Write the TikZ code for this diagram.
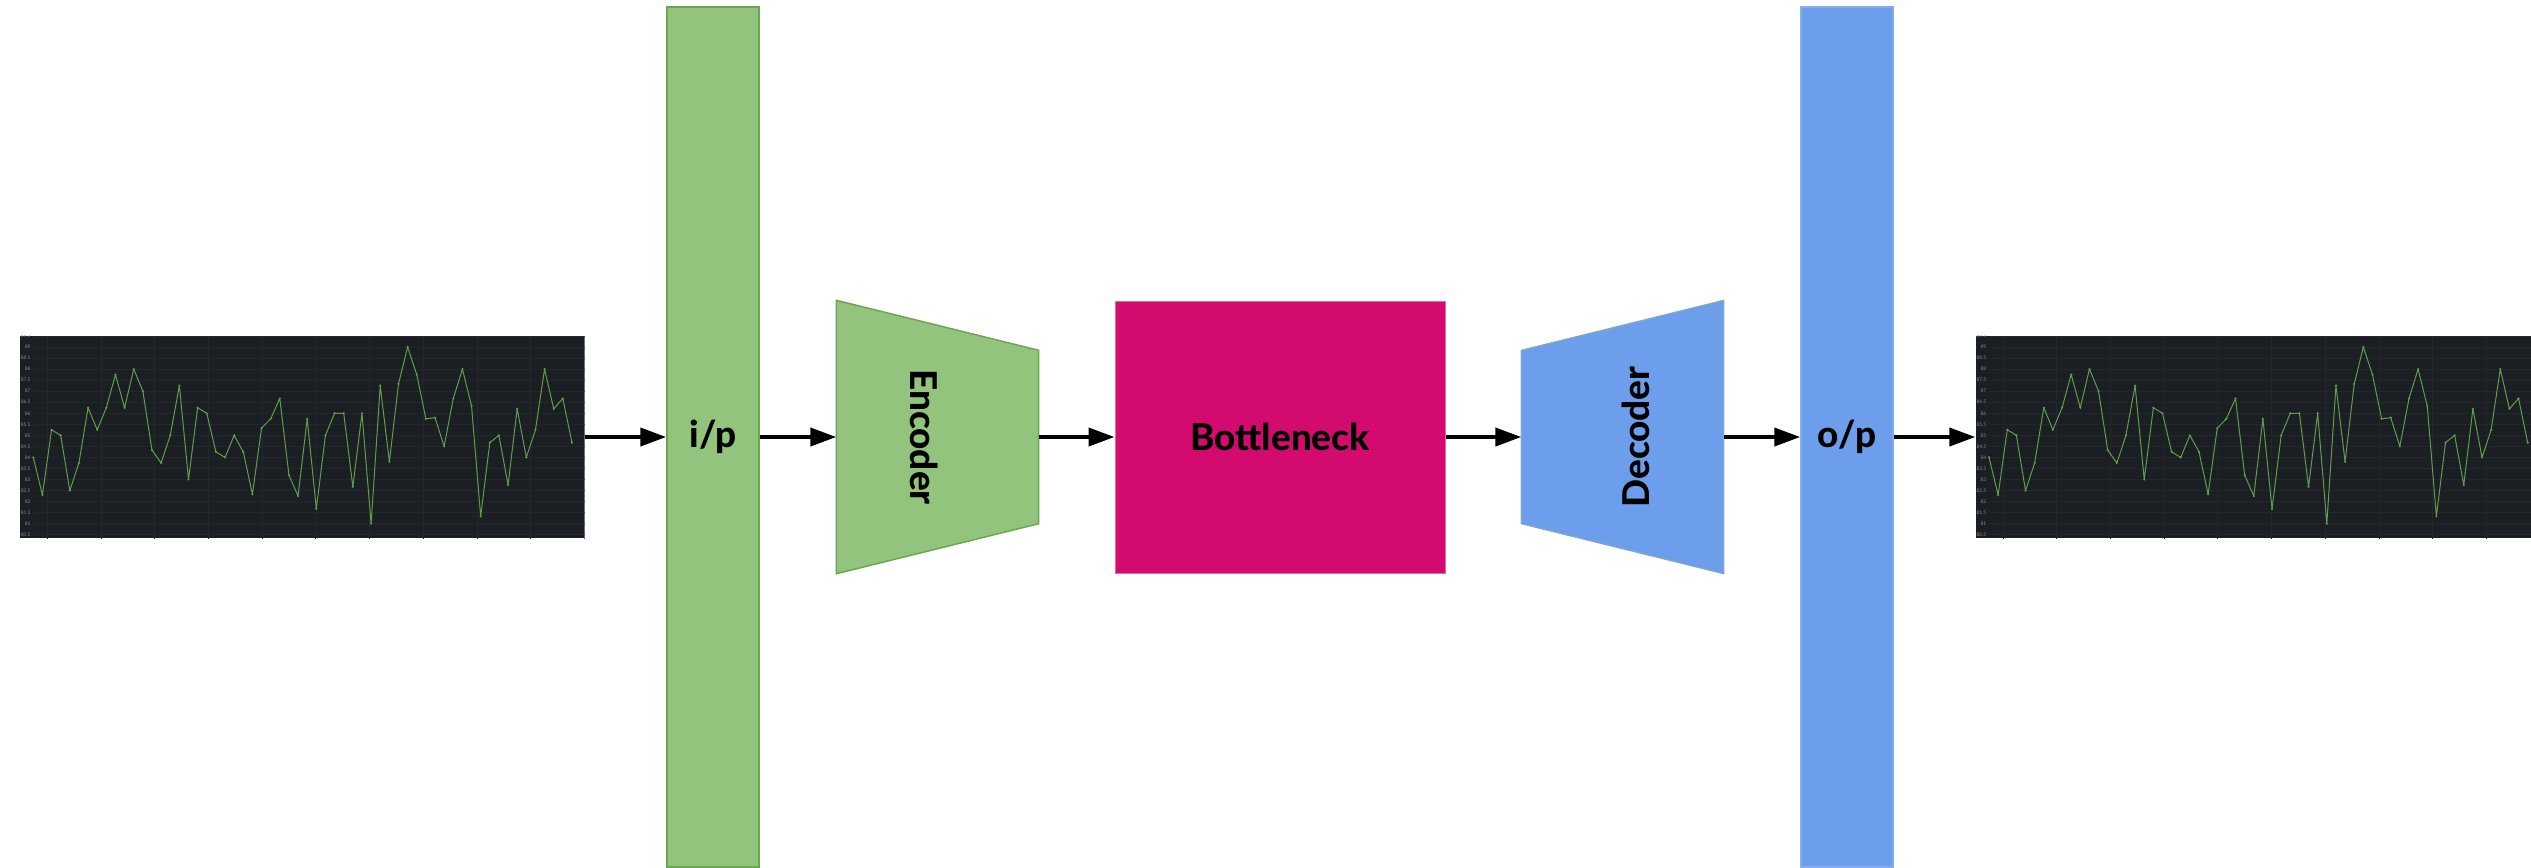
\documentclass[tikz,border=0pt]{standalone}
\usepackage{fontspec}
\setmainfont{Lato}[BoldFont={Lato Heavy}]
\usetikzlibrary{arrows.meta,positioning,calc}

\definecolor{ipgreen}{HTML}{93C47D}
\definecolor{ipgreenline}{HTML}{6AA84F}
\definecolor{opblue}{HTML}{6D9EEB}
\definecolor{opblueline}{HTML}{82A9C6}
\definecolor{neckpink}{HTML}{D30B6F}
\definecolor{neckpinkline}{HTML}{E46AA3}
\definecolor{panelbg}{HTML}{1B1E22}
\definecolor{panelgrid}{HTML}{23262B}
\definecolor{traceline}{HTML}{5E9E4E}
\definecolor{ticklabel}{HTML}{868A8F}

% signal samples shown in both panels
\def\signalvalues{84,82.3,85.25,85,82.5,83.75,86.25,85.25,86.25,87.75,86.25,88,87,84.33,83.75,85,87.25,83,86.25,86,84.25,84,85,84.25,82.33,85.33,85.75,86.67,83.2,82.25,85.75,81.67,85,86,86,82.67,86,81,87.25,83.8,87.33,89,87.75,85.75,85.8,84.5,86.67,88,86.33,81.33,84.67,85,82.75,86.2,84,85.25,88,86.2,86.67,84.67}

\tikzset{
  flow/.style={line width=0.4mm, -{Triangle[length=2.6mm,width=1.8mm]}},
  panel/.style={fill=panelbg, inner sep=0pt, minimum width=56.4mm, minimum height=20.2mm},
  layerbar/.style={inner sep=0pt, minimum width=9.2mm, minimum height=86mm, line width=0.15mm},
  blockbox/.style={inner sep=0pt, minimum height=27.2mm},
  blocktext/.style={font=\fontsize{10.5}{12}\selectfont\bfseries, inner sep=0pt},
  ticklab/.style={font=\fontsize{1.4}{1.6}\selectfont, text=ticklabel, inner sep=0pt, anchor=east},
  trace/.style={traceline, line width=0.1mm, line join=round}
}

% #1 panel node, #2 x of first sample
\newcommand{\signalpanel}[2]{%
  \begin{scope}
    \clip (#1.south west) rectangle (#1.north east);
    \foreach \k in {0,...,10}
      \draw[panelgrid, line width=0.08mm] ({#2+14+53.7*\k},336) -- ({#2+14+53.7*\k},540);
    \foreach \v in {80.5,81,...,89.5} {
      \draw[panelgrid, line width=0.08mm] (#2,{347+(89-\v)*22.08}) -- ++(570,0);
      \node[ticklab] at ({#2-2},{347+(89-\v)*22.08}) {\v};
    }
    \draw[trace] (#2,{347+5*22.08})
      foreach \v [count=\i] in \signalvalues {-- ({#2+(\i-1)*9.13},{347+(89-\v)*22.08})};
    \foreach \v [count=\i] in \signalvalues
      \fill[traceline] ({#2+(\i-1)*9.13},{347+(89-\v)*22.08}) circle (0.12mm);
  \end{scope}}

\begin{document}
\begin{tikzpicture}[x=0.1mm,y=-0.1mm]
\useasboundingbox (0,0) rectangle (2531,867);

% Input signal panel
\node (inplot) [panel] at (302,437) {};
\signalpanel{inplot}{33.3}

% Input layer
\node (ip) [layerbar, fill=ipgreen, draw=ipgreenline] at (713,437) {};
\node (iptext) [blocktext] at (713,437) {i/p};

% Encoder
\node (enc) [blockbox, minimum width=20.1mm] at (937.5,437) {};
\filldraw[fill=ipgreen, draw=ipgreenline, line width=0.15mm]
  (enc.north west) -- ($(enc.north east)+(0,50)$) -- ($(enc.south east)+(0,-50)$) -- (enc.south west) -- cycle;
\node (enctext) [blocktext, rotate=-90] at (924,437) {Encoder};

% Bottleneck
\node (neck) [blockbox, minimum width=33mm, fill=neckpink, draw=neckpinkline, line width=0.1mm] at (1280,437) {};
\node (necktext) [blocktext] at (1280,437) {Bottleneck};

% Decoder
\node (dec) [blockbox, minimum width=20.1mm] at (1622.5,437) {};
\filldraw[fill=opblue, draw=opblueline, line width=0.12mm]
  ($(dec.north west)+(0,50)$) -- (dec.north east) -- (dec.south east) -- ($(dec.south west)+(0,-50)$) -- cycle;
\node (dectext) [blocktext, rotate=90] at (1636,437) {Decoder};

% Output layer
\node (op) [layerbar, fill=opblue, draw=opblue!85!white] at (1847,437) {};
\node (optext) [blocktext] at (1847,437) {o/p};

% Output signal panel
\node (outplot) [panel] at (2258,437) {};
\signalpanel{outplot}{1989}

% Connectors
\draw[flow] (inplot.east) -- (ip.west);
\draw[flow] (ip.east) -- (enc.west);
\draw[flow] (enc.east) -- (neck.west);
\draw[flow] (neck.east) -- (dec.west);
\draw[flow] (dec.east) -- (op.west);
\draw[flow] (op.east) -- (outplot.west);
\end{tikzpicture}
\end{document}
